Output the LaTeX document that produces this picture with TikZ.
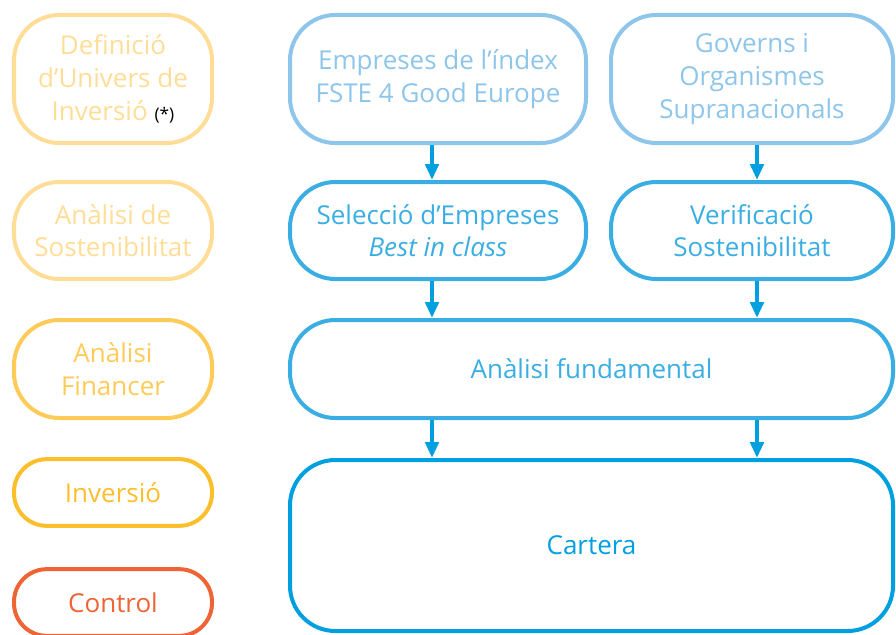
\documentclass[tikz,border=0pt]{standalone}
\usepackage{fontspec}
\setmainfont{Open Sans}
\usepackage{tikz}
\usetikzlibrary{positioning,arrows.meta}
\definecolor{grocA}{HTML}{FFDD96}
\definecolor{grocB}{HTML}{FFCB58}
\definecolor{grocC}{HTML}{FDBE2C}
\definecolor{taronja}{HTML}{EE6434}
\definecolor{blauA}{HTML}{8DC5EB}
\definecolor{blauB}{HTML}{3AAEE3}
\definecolor{blauC}{HTML}{009FDF}
\tikzset{
	caixa/.style={draw,line width=3pt,rounded corners=34pt,align=center,inner sep=0pt,
		font=\fontsize{19.5}{24.5}\selectfont},
	petita/.style={caixa,rounded corners=24.5pt,minimum height=50pt},
	fletxa/.style={line width=3pt,draw=blauC,-{Triangle[width=10pt,length=12pt]}}
}

\begin{document}
\begin{tikzpicture}[x=0.75pt,y=-0.75pt]
	\def\xL{113};
	\def\xM{438};
	\def\xR{752};
	\def\xW{591.5};
\useasboundingbox (0,0) rectangle (896,635);
\clip (0,0) rectangle (896,635);

%Fases (columna esquerra)
\node[caixa,draw=grocA,text=grocA,minimum width=148.5pt,minimum height=96pt] (defin) at (\xL,79)
	{Definició\\d’Univers de\\Inversió {\color{black}\fontsize{13}{15}\selectfont(*)}};
\node[caixa,draw=grocA,text=grocA,minimum width=148.5pt,minimum height=72.75pt] (sost) at (\xL,230.5)
	{Anàlisi de\\Sostenibilitat};
\node[caixa,draw=grocB,text=grocB,minimum width=148.5pt,minimum height=73.5pt] (finan) at (\xL,369)
	{Anàlisi\\Financer};
\node[petita,draw=grocC,text=grocC,minimum width=148.5pt] (inver) at (\xL,492.5)
	{Inversió};
\node[petita,draw=taronja,text=taronja,minimum width=148.5pt] (contr) at (\xL,602.5)
	{Control};

%Univers
\node[caixa,draw=blauA,text=blauA,minimum width=222pt,minimum height=96pt] (empr) at (\xM,79)
	{Empreses de l’índex\\FSTE 4 Good Europe};
\node[caixa,draw=blauA,text=blauA,minimum width=211.5pt,minimum height=96pt] (gov) at (\xR,79)
	{Governs i\\Organismes\\Supranacionals};

%Filtres
\node[caixa,draw=blauB,text=blauB,minimum width=222pt,minimum height=72.75pt] (selec) at (\xM,230.5)
	{Selecció d’Empreses\\\textit{Best in class}};
\node[caixa,draw=blauB,text=blauB,minimum width=211.5pt,minimum height=72.75pt] (verif) at (\xR,230.5)
	{Verificació\\Sostenibilitat};
\node[caixa,draw=blauB,text=blauB,minimum width=452.25pt,minimum height=73.5pt] (fonam) at (\xW,369)
	{Anàlisi fundamental};
\node[caixa,draw=blauC,text=blauC,minimum width=452.25pt,minimum height=128.25pt] (cart) at (\xW,545.5)
	{Cartera};

%Fletxes
\coordinate (fL) at (432,0);
\coordinate (fR) at (757,0);
\draw[fletxa] (empr.south -| fL) -- (selec.north -| fL);
\draw[fletxa] (gov.south -| fR) -- (verif.north -| fR);
\draw[fletxa] (selec.south -| fL) -- (fonam.north -| fL);
\draw[fletxa] (verif.south -| fR) -- (fonam.north -| fR);
\draw[fletxa] (fonam.south -| fL) -- (cart.north -| fL);
\draw[fletxa] (fonam.south -| fR) -- (cart.north -| fR);

\end{tikzpicture}
\end{document}
